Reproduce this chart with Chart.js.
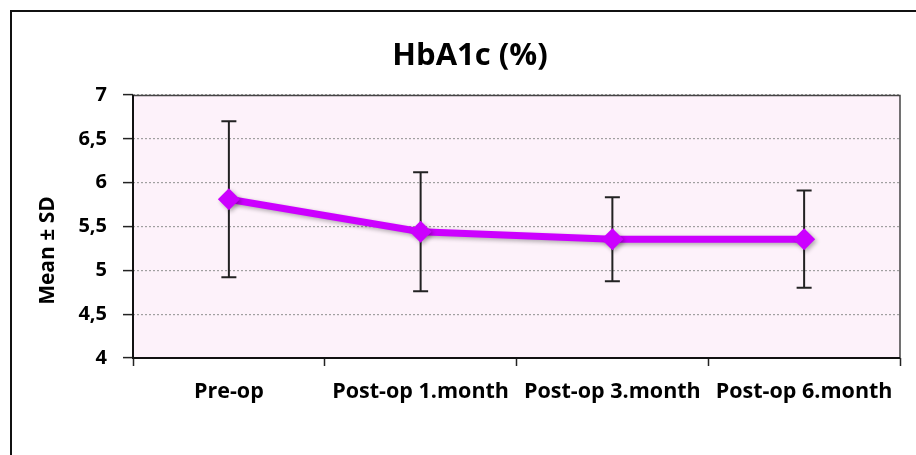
<!DOCTYPE html>
<html>
<head>
<meta charset="utf-8">
<script src="https://cdn.jsdelivr.net/npm/chart.js@4"></script>
<style>
    body { margin: 0; background: #fff; }
    #frame { position: absolute; left: 10px; top: 10px; width: 1000px; height: 1000px; border: 2px solid #111; }
    #wrap { position: absolute; left: 0; top: 0; width: 916px; height: 455px; }
</style>
</head>
<body>
<div id="frame"></div>
<div id="wrap"><canvas id="hba1c_chart" width="916" height="455"></canvas></div>
<script>
// data
var categories = ['Pre-op', 'Post-op 1.month', 'Post-op 3.month', 'Post-op 6.month'];
var meanValues = [5.81, 5.44, 5.355, 5.355];
var sdValues = [0.89, 0.68, 0.48, 0.555];
var yTicks = [4, 4.5, 5, 5.5, 6, 6.5, 7];

var fontFamily = '"Open Sans", sans-serif';

// pink plot background + solid frame round the plot area
var plotBox = {
    id: 'plotBox',
    beforeDraw: function (chart) {
        var a = chart.chartArea, ctx = chart.ctx;
        ctx.save();
        ctx.fillStyle = '#fdf2fa';
        ctx.fillRect(a.left, a.top, a.right - a.left, a.bottom - a.top);
        ctx.restore();
    },
    afterDraw: function (chart) {
        var a = chart.chartArea, ctx = chart.ctx;
        ctx.save();
        ctx.strokeStyle = '#444';
        ctx.lineWidth = 1.5;
        ctx.beginPath();
        ctx.moveTo(a.left, a.top + 0.5);
        ctx.lineTo(a.right, a.top + 0.5);
        ctx.lineTo(a.right, a.bottom);
        ctx.stroke();
        ctx.strokeStyle = '#111';
        ctx.lineWidth = 2;
        ctx.beginPath();
        ctx.moveTo(a.left, a.top);
        ctx.lineTo(a.left, a.bottom);
        ctx.lineTo(a.right, a.bottom);
        ctx.stroke();

        // y axis title, sits a bit below the middle like the original
        ctx.fillStyle = '#000';
        ctx.font = 'bold 21px ' + fontFamily;
        ctx.textAlign = 'center';
        ctx.textBaseline = 'middle';
        ctx.translate(48, (a.top + a.bottom) / 2 + 24);
        ctx.rotate(-Math.PI / 2);
        ctx.fillText('Mean \u00b1 SD', 0, 0);
        ctx.restore();
    }
};

// mean ± SD whiskers, drawn under the line
var errorBars = {
    id: 'errorBars',
    beforeDatasetsDraw: function (chart) {
        var ctx = chart.ctx, x = chart.scales.x, y = chart.scales.y;
        ctx.save();
        ctx.strokeStyle = '#222';
        ctx.lineWidth = 2;
        meanValues.forEach(function (m, i) {
            var px = x.getPixelForValue(i);
            var top = y.getPixelForValue(m + sdValues[i]);
            var bot = y.getPixelForValue(m - sdValues[i]);
            ctx.beginPath();
            ctx.moveTo(px, top); ctx.lineTo(px, bot);
            ctx.moveTo(px - 7.5, top); ctx.lineTo(px + 7.5, top);
            ctx.moveTo(px - 7.5, bot); ctx.lineTo(px + 7.5, bot);
            ctx.stroke();
        });
        ctx.restore();
    },
    beforeDatasetDraw: function (chart) {
        var ctx = chart.ctx;
        ctx.save();
        ctx.shadowColor = 'rgba(0,0,0,0.3)';
        ctx.shadowBlur = 4;
        ctx.shadowOffsetX = 2;
        ctx.shadowOffsetY = 2;
    },
    afterDatasetDraw: function (chart) {
        chart.ctx.restore();
    }
};

var chart = new Chart(document.getElementById('hba1c_chart').getContext('2d'), {
    type: 'line',
    data: {
        labels: categories,
        datasets: [{
            label: 'HbA1c',
            data: meanValues,
            borderColor: '#cc00ff',
            backgroundColor: '#cc00ff',
            borderWidth: 7,
            tension: 0,
            pointStyle: 'rectRot',
            pointRadius: 11,
            pointBorderWidth: 0,
            pointBackgroundColor: '#cc00ff'
        }]
    },
    options: {
        responsive: false,
        animation: false,
        devicePixelRatio: 1,
        // left padding pushes the title centre to the right, y scale width makes up for it
        layout: { padding: { left: 40, right: 16, top: 0, bottom: 0 } },
        plugins: {
            legend: { display: false },
            tooltip: { enabled: false },
            title: {
                display: true,
                text: 'HbA1c (%)',
                color: '#000',
                font: { family: fontFamily, size: 31, weight: 'bold', lineHeight: 1.2 },
                padding: { top: 38, bottom: 19.8 }
            }
        },
        scales: {
            x: {
                offset: true,
                grid: {
                    offset: true,
                    drawOnChartArea: false,
                    drawTicks: true,
                    tickLength: 8,
                    tickColor: '#222',
                    tickWidth: 1.5
                },
                border: { display: false },
                ticks: {
                    color: '#000',
                    padding: 13,
                    maxRotation: 0,
                    autoSkip: false,
                    font: { family: fontFamily, size: 21.5, weight: 'bold' }
                },
                afterFit: function (scale) { scale.height = 97; }
            },
            y: {
                min: 4,
                max: 7,
                afterBuildTicks: function (scale) {
                    scale.ticks = yTicks.map(function (v) { return { value: v }; });
                },
                grid: {
                    color: '#a0a0a0',
                    lineWidth: 1.2,
                    tickLength: 10,
                    tickColor: '#222',
                    tickWidth: 1.5,
                    tickBorderDash: []
                },
                border: { display: false, dash: [2, 2] },
                ticks: {
                    color: '#000',
                    padding: 16,
                    font: { family: fontFamily, size: 20, weight: 'bold' },
                    callback: function (v) { return String(v).replace('.', ','); }
                },
                afterFit: function (scale) { scale.width = 93; }
            }
        }
    },
    plugins: [plotBox, errorBars]
});
</script>
</body>
</html>
